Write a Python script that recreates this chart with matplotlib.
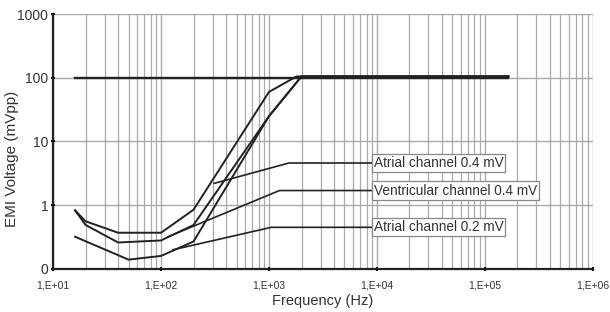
import matplotlib.pyplot as plt
import numpy as np

plt.rcParams['font.family'] = ['Liberation Sans', 'DejaVu Sans']

# reference line
f_ref = [16, 1.65e5]
v_ref = [100, 100]

# measured curves
f_a = [16, 20, 40, 100, 200, 1000, 1800, 1.65e5]
v_a = [0.83, 0.56, 0.37, 0.37, 0.85, 60, 105, 105]

f_b = [16, 20, 40, 100, 200, 1000, 2000, 1.65e5]
v_b = [0.83, 0.49, 0.26, 0.28, 0.49, 25, 105, 105]

f_c = [16, 50, 100, 200, 1000, 2000, 1.65e5]
v_c = [0.32, 0.14, 0.16, 0.27, 25, 105, 105]

# callouts: text, point on curve, bend point, label start
labels = ['Atrial channel 0.4 mV', 'Ventricular channel 0.4 mV', 'Atrial channel 0.2 mV']
pt_f = [310, 116, 129]
pt_v = [2.2, 0.32, 0.2]
bend_f = [1530, 1250, 1050]
lab_f = [9300, 9300, 9300]
lab_v = [4.6, 1.7, 0.45]

xticks = [1e1, 1e2, 1e3, 1e4, 1e5, 1e6]
xticklabels = ['1,E+01', '1,E+02', '1,E+03', '1,E+04', '1,E+05', '1,E+06']
yticks = [0.1, 1, 10, 100, 1000]
yticklabels = ['0', '1', '10', '100', '1000']

fig = plt.figure(figsize=(6.1, 3.12), dpi=100)
ax = fig.add_axes([0.087, 0.138, 0.885, 0.817])

ax.set_xscale('log')
ax.set_yscale('log')
ax.set_xlim(1e1, 1e6)
ax.set_ylim(0.1, 1000)

ax.plot(f_ref, v_ref, color='#222222', lw=1.7, zorder=3)
for f, v in [(f_a, v_a), (f_b, v_b), (f_c, v_c)]:
    ax.plot(f, v, color='#222222', lw=1.4, zorder=3)

for i in range(len(labels)):
    ax.plot([pt_f[i], bend_f[i], lab_f[i]], [pt_v[i], lab_v[i], lab_v[i]],
            color='#222222', lw=1.2, zorder=3)
    ax.text(lab_f[i], lab_v[i], labels[i], fontsize=9.8, color='#333333',
            va='center', ha='left', zorder=4,
            bbox=dict(boxstyle='square,pad=0.15', fc='white', ec='#888888', lw=0.9))

ax.set_xticks(xticks)
ax.set_xticklabels(xticklabels)
ax.set_yticks(yticks)
ax.set_yticklabels(yticklabels)
ax.yaxis.set_minor_locator(plt.NullLocator())
ax.xaxis.set_minor_locator(plt.LogLocator(base=10, subs=np.arange(2, 10)))
ax.tick_params(axis='x', which='minor', length=0)
ax.tick_params(axis='both', which='major', length=3, width=1.5, direction='inout',
               labelcolor='#333333')
ax.tick_params(axis='x', which='major', labelsize=7.5, pad=7)
ax.tick_params(axis='y', which='major', labelsize=10, pad=2)

ax.grid(True, which='major', axis='both', color='#aaaaaa', lw=1.0, zorder=0)
ax.grid(True, which='minor', axis='x', color='#aaaaaa', lw=0.9, zorder=0)

for s in ['top', 'right']:
    ax.spines[s].set_visible(False)
for s in ['left', 'bottom']:
    ax.spines[s].set_linewidth(1.6)
    ax.spines[s].set_color('#222222')

ax.set_xlabel('Frequency (Hz)', fontsize=10.5, color='#333333', labelpad=2)
ax.set_ylabel('EMI Voltage (mVpp)', fontsize=11, color='#333333')
ax.yaxis.set_label_coords(-0.063, 0.43)

fig.savefig('out.png', dpi=100)
